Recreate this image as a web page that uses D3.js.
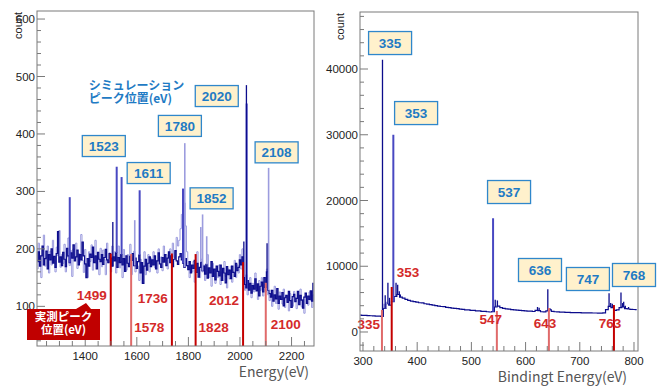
<!DOCTYPE html>
<html>
<head>
<meta charset="utf-8">
<script src="https://cdn.jsdelivr.net/npm/d3@7"></script>
<style>
  body { margin: 0; background: #fff; }
  svg { display: block; }
  text { font-family: "Liberation Sans", Arial, sans-serif; }
  .jp { font-family: "Noto Sans CJK JP", "Noto Sans", sans-serif; }
</style>
</head>
<body>
<svg width="659" height="386"></svg>
<script>
// ---- left panel: Auger spectrum, 5 eV bins from 1215 eV ----
const leftStart = 1215;
const leftStep = 5;
const leftDark = [
    178, 195, 170, 188, 205, 172, 183, 196, 165, 190,
    181, 200, 175, 187, 168, 192, 230, 177, 186, 171,
    194, 182, 169, 201, 188, 176, 193, 184, 207, 179,
    186, 198, 172, 190, 181, 212, 188, 174, 150, 183,
    170, 191, 185, 203, 176, 188, 165, 194, 182, 178,
    190, 173, 185, 199, 181, 176, 192, 184, 170, 186,
    179, 193, 168, 185, 176, 190, 172, 183, 161, 188,
    175, 169, 187, 180, 192, 171, 184, 166, 178, 189,
    158, 176, 140, 170, 182, 163, 175, 186, 169, 181,
    172, 188, 165, 179, 193, 174, 168, 185, 177, 190,
    171, 184, 195, 176, 188, 169, 182, 197, 179, 173,
    186, 192, 181, 175, 168, 183, 171, 164, 178, 158,
    172, 166, 180, 159, 175, 151, 168, 177, 162, 170,
    156, 173, 149, 167, 158, 178, 152, 165, 146, 170,
    161, 153, 172, 145, 166, 158, 141, 169, 155, 163,
    148, 170, 159, 152, 175, 162, 168, 181, 172, 186,
    150, 138, 132, 145, 128, 140, 123, 136, 130, 148,
    127, 139, 118, 135, 142, 125, 150, 133, 160, 128,
    122, 116, 128, 109, 120, 113, 131, 105, 118, 112,
    124, 101, 115, 119, 107, 126, 110, 98, 117, 121,
    108, 114, 126, 103, 119, 111, 97, 116, 123, 105,
    118, 112, 127, 109, 140
];
const leftLight = [
    165, 210, 188, 150, 198, 224, 170, 185, 205, 158,
    196, 172, 215, 180, 160, 203, 188, 232, 168, 190,
    175, 208, 160, 186, 219, 171, 197, 152, 200, 183,
    210, 166, 192, 177, 225, 180, 159, 199, 170, 150,
    195, 178, 207, 163, 190, 215, 174, 186, 155, 201,
    169, 198, 181, 155, 210, 176, 193, 160, 205, 182,
    195, 158, 186, 205, 167, 178, 150, 199, 181, 163,
    190, 172, 208, 155, 184, 196, 160, 178, 170, 145,
    182, 140, 170, 195, 155, 176, 190, 160, 184, 172,
    195, 168, 180, 158, 200, 175, 186, 162, 205, 179,
    190, 165, 182, 200, 176, 210, 185, 195, 220, 205,
    215, 235, 260, 300, 280, 240, 195, 170, 150, 168,
    160, 178, 142, 170, 195, 165, 150, 182, 160, 172,
    145, 168, 190, 150, 162, 135, 175, 158, 140, 166,
    150, 172, 138, 160, 145, 178, 152, 132, 165, 148,
    170, 142, 160, 180, 150, 172, 158, 190, 165, 200,
    142, 128, 155, 120, 138, 150, 115, 140, 125, 158,
    132, 112, 145, 128, 150, 118, 138, 125, 165, 120,
    110, 128, 100, 122, 135, 105, 118, 95, 125, 112,
    104, 130, 98, 118, 108, 92, 122, 112, 100, 126,
    115, 96, 120, 107, 130, 99, 112, 88, 118, 108,
    102, 125, 110, 98, 120
];
// narrow peaks [energy, count]
const leftDarkSpikes = [[1507, 247], [2015, 213], [2025, 485], [2105, 210]];
const leftMidSpikes = [[1340, 290], [1522, 343], [1541, 325], [1611, 302], [1779, 305], [2026, 453]];
const leftLightSpikes = [[1592, 250], [1786, 384], [1848, 238], [1855, 260], [1871, 222], [2111, 341]];
const leftSimLabels = ["1523", "1611", "1780", "1852", "2020", "2108"];
const leftMeasured = [1499, 1578, 1736, 1828, 2012, 2100];
const leftMeasuredTop = [192, 191, 192, 191, 177, 141];

// ---- right panel: XPS survey, 5 eV bins from 295 eV ----
const rightStart = 295;
const rightStep = 5;
const rightBase = [
    2560, 2540, 2520, 2490, 2470, 2450, 2420, 2400, 2380, 3600,
    4300, 4100, 4600, 5400, 5700, 5300, 5150, 4950, 4800, 4700,
    4620, 4550, 4450, 4420, 4300, 4230, 4150, 4080, 4020, 3950,
    3880, 3850, 3760, 3720, 3640, 3600, 3550, 3480, 3440, 3380,
    3350, 3300, 3280, 3220, 3200, 3150, 3130, 3080, 3040, 3100,
    3800, 3950, 3700, 3600, 3520, 3480, 3400, 3380, 3320, 3290,
    3240, 3220, 3170, 3160, 3120, 3300, 3250, 3080, 3060, 3200,
    3350, 3150, 3080, 3060, 3020, 3010, 2990, 2980, 2960, 2960,
    2940, 2940, 2920, 2920, 2900, 2910, 2890, 2890, 2880, 2870,
    2900, 3400, 3900, 3700, 3300, 3350, 3700, 3800, 3550, 3500,
    3450, 3420, 3400
];
const rightDarkSpikes = [
    [336, 41400], [341, 5600], [346, 7500], [349, 5200], [361, 7500], [364, 7200],
    [367, 6200], [369, 5700], [544, 4900], [548, 4800], [622, 3800], [625, 3700],
    [641, 6500], [645, 3600], [754, 5900], [757, 4400], [760, 4300], [776, 6000],
    [779, 4400], [781, 4600], [784, 4000], [790, 3800]
];
const rightMidSpikes = [[356, 30000], [540, 17300]];
const rightLightSpikes = [[339, 4300], [342, 4500], [344, 4600], [347, 4400], [350, 4200]];
const rightSimLabels = ["335", "353", "537", "636", "747", "768"];
const rightMeasured = [335, 353, 547, 643, 763];
const rightMeasuredTop = [3350, 6850, 3200, 3650, 4100];

// ---- layout / style (not data) ----
const colors = {
    dark: "#0c0c8c",
    mid: "#4848c2",
    light: "#9c9cde",
    redDark: "#c40000",
    redLight: "#e06a6a",
    redText: "#d42a2a",
    boxFill: "#fff1cc",
    boxStroke: "#2f87cb",
    boxText: "#1f7bc4",
    frame: "#7a7a7a",
};

const panels = [
    {
        frame: { x0: 37, x1: 314, y0: 11, y1: 346 },
        xDomain: [1213, 2287],
        yDomain: [31, 614],
        xMajor: 200, xMinor: 50, yMajor: 100, yMinor: 20,
        start: leftStart, step: leftStep,
        dark: leftDark, light: leftLight,
        darkSpikes: leftDarkSpikes, midSpikes: leftMidSpikes, lightSpikes: leftLightSpikes,
        simLabels: leftSimLabels,
        simBoxAt: [[1472, 379], [1646, 332], [1767, 414], [1890, 288], [1910, 466], [2142, 368]],
        boxH: 21,
        measured: leftMeasured, measuredTop: leftMeasuredTop,
        measuredTone: ["redDark", "redLight", "redDark", "redDark", "redDark", "redLight"],
        measuredText: [
            { anchor: "end", dx: -4, y: 119 }, { anchor: "start", dx: 3, y: 63 },
            { anchor: "end", dx: -4, y: 114 }, { anchor: "start", dx: 3, y: 63 },
            { anchor: "end", dx: -4, y: 110 }, { anchor: "start", dx: 5, y: 69 },
        ],
        xTitle: "Energy(eV)", xTitleRight: 309, xTitleBaseline: 377,
        countX: 22,
    },
    {
        frame: { x0: 360, x1: 638, y0: 12, y1: 351 },
        xDomain: [294.5, 807.4],
        yDomain: [-2890, 48670],
        xMajor: 100, xMinor: 20, yMajor: 10000, yMinor: 2000,
        start: rightStart, step: rightStep,
        dark: rightBase, light: null,
        darkSpikes: rightDarkSpikes, midSpikes: rightMidSpikes, lightSpikes: rightLightSpikes,
        simLabels: rightSimLabels,
        simBoxAt: [[350, 43950], [398, 33300], [569.5, 21290], [626.6, 9430], [715, 8060], [800, 8670]],
        boxH: 23,
        measured: rightMeasured, measuredTop: rightMeasuredTop,
        measuredTone: ["redLight", "redDark", "redLight", "redLight", "redDark"],
        measuredText: [
            { anchor: "end", dx: -2, y: 1170 }, { anchor: "start", dx: 5, y: 9125 },
            { anchor: "middle", dx: -6, y: 1980 }, { anchor: "middle", dx: -4, y: 1370 },
            { anchor: "middle", dx: -4, y: 1370 },
        ],
        xTitle: "Bindingt Energy(eV)", xTitleRight: 627, xTitleBaseline: 382,
        countX: 344,
    },
];

const svg = d3.select("svg");

function tickValues(domain, step) {
    const first = Math.ceil(domain[0] / step - 1e-9) * step;
    return d3.range(first, domain[1] + 1e-9, step);
}

function drawPanel(p, idx) {
    const g = svg.append("g");
    const { x0, x1, y0, y1 } = p.frame;
    const x = d3.scaleLinear().domain(p.xDomain).range([x0, x1]);
    const y = d3.scaleLinear().domain(p.yDomain).range([y1, y0]);

    const clipId = "clip" + idx;
    g.append("clipPath").attr("id", clipId)
        .append("rect").attr("x", x0).attr("y", y0).attr("width", x1 - x0).attr("height", y1 - y0);
    const plot = g.append("g").attr("clip-path", `url(#${clipId})`);

    // spectra
    const line = d3.line()
        .x((d, i) => x(p.start + i * p.step))
        .y((d) => y(d))
        .curve(d3.curveStep);
    if (p.light) {
        plot.append("path").attr("d", line(p.light))
            .attr("fill", "none").attr("stroke", colors.light).attr("stroke-width", 1);
    }
    plot.append("path").attr("d", line(p.dark))
        .attr("fill", "none").attr("stroke", colors.dark).attr("stroke-width", 1.2);

    // narrow peaks rise from the local background
    const baseAt = (e) => {
        const i = Math.max(0, Math.min(p.dark.length - 1, Math.round((e - p.start) / p.step)));
        return p.dark[i];
    };
    const spikeSets = [
        [p.lightSpikes, colors.light, 1.6],
        [p.midSpikes, colors.mid, 2],
        [p.darkSpikes, colors.dark, 1.3],
    ];
    spikeSets.forEach(([set, color, w]) => {
        plot.selectAll(null).data(set).join("line")
            .attr("x1", (d) => x(d[0])).attr("x2", (d) => x(d[0]))
            .attr("y1", (d) => y(baseAt(d[0]))).attr("y2", (d) => y(d[1]))
            .attr("stroke", color).attr("stroke-width", w);
    });

    // measured peak markers
    g.selectAll(null).data(p.measured).join("line")
        .attr("x1", (d) => x(d)).attr("x2", (d) => x(d))
        .attr("y1", y1).attr("y2", (d, i) => y(p.measuredTop[i]))
        .attr("stroke", (d, i) => colors[p.measuredTone[i]]).attr("stroke-width", 2);

    g.selectAll(null).data(p.measured).join("text")
        .attr("x", (d, i) => x(d) + p.measuredText[i].dx)
        .attr("y", (d, i) => y(p.measuredText[i].y))
        .attr("dy", "0.36em")
        .attr("text-anchor", (d, i) => p.measuredText[i].anchor)
        .attr("fill", colors.redText)
        .attr("font-size", 13.5).attr("font-weight", "bold")
        .text((d) => d);

    // frame
    g.append("rect").attr("x", x0).attr("y", y0).attr("width", x1 - x0).attr("height", y1 - y0)
        .attr("fill", "none").attr("stroke", colors.frame).attr("stroke-width", 1);

    // ticks (ROOT style, pointing inward)
    const isMajor = (v, step) => Math.abs(Math.round(v / step) * step - v) < 1e-6;
    const xt = tickValues(p.xDomain, p.xMinor);
    g.selectAll(null).data(xt).join("line")
        .attr("x1", (d) => x(d)).attr("x2", (d) => x(d))
        .attr("y1", y1).attr("y2", (d) => y1 - (isMajor(d, p.xMajor) ? 9 : 5))
        .attr("stroke", colors.frame);
    const yt = tickValues(p.yDomain, p.yMinor);
    g.selectAll(null).data(yt).join("line")
        .attr("y1", (d) => y(d)).attr("y2", (d) => y(d))
        .attr("x1", x0).attr("x2", (d) => x0 + (isMajor(d, p.yMajor) ? 8 : 4))
        .attr("stroke", colors.frame);

    g.selectAll(null).data(tickValues(p.xDomain, p.xMajor)).join("text")
        .attr("x", (d) => x(d)).attr("y", y1 + 14)
        .attr("text-anchor", "middle").attr("font-size", 11.5).attr("fill", "#222")
        .text((d) => d);
    g.selectAll(null).data(tickValues(p.yDomain, p.yMajor)).join("text")
        .attr("x", x0 - 2).attr("y", (d) => y(d)).attr("dy", "0.35em")
        .attr("text-anchor", "end").attr("font-size", 11.5).attr("fill", "#222")
        .text((d) => d);

    // titles
    g.append("text").attr("class", "jp")
        .attr("x", p.xTitleRight).attr("y", p.xTitleBaseline)
        .attr("text-anchor", "end").attr("font-size", 14).attr("fill", "#555")
        .text(p.xTitle);
    g.append("text")
        .attr("transform", `translate(${p.countX},${y0 + 1}) rotate(-90)`)
        .attr("text-anchor", "end").attr("font-size", 11).attr("fill", "#222")
        .text("count");

    // simulation peak boxes
    const bw = 43;
    const boxes = g.selectAll(null).data(p.simLabels).join("g")
        .attr("transform", (d, i) => `translate(${x(p.simBoxAt[i][0])},${y(p.simBoxAt[i][1])})`);
    boxes.append("rect")
        .attr("x", -bw / 2).attr("y", -p.boxH / 2).attr("width", bw).attr("height", p.boxH)
        .attr("fill", colors.boxFill).attr("stroke", colors.boxStroke).attr("stroke-width", 1.3);
    boxes.append("text")
        .attr("text-anchor", "middle").attr("dy", "0.36em")
        .attr("font-size", 13.5).attr("font-weight", "bold").attr("fill", colors.boxText)
        .text((d) => d);

    return { x, y, g };
}

const left = drawPanel(panels[0], 0);
drawPanel(panels[1], 1);

// caption for simulated peaks
const cap = left.g.append("text").attr("class", "jp")
    .attr("font-size", 12).attr("font-weight", "bold").attr("fill", colors.boxText);
cap.append("tspan").attr("x", left.x(1414)).attr("y", left.y(476)).text("シミュレーション");
cap.append("tspan").attr("x", left.x(1414)).attr("dy", 13).text("ピーク位置(eV)");

// callout for measured peaks
const call = left.g.append("g");
call.append("path")
    .attr("d", "M27,309 H76 L86,303 L91,309 H100 V340 H27 Z")
    .attr("fill", "#c00000");
const ct = call.append("text").attr("class", "jp")
    .attr("text-anchor", "middle").attr("font-size", 11.5).attr("font-weight", "bold").attr("fill", "#fff");
ct.append("tspan").attr("x", 63.5).attr("y", 321).text("実測ピーク");
ct.append("tspan").attr("x", 63.5).attr("y", 334).text("位置(eV)");
</script>
</body>
</html>
